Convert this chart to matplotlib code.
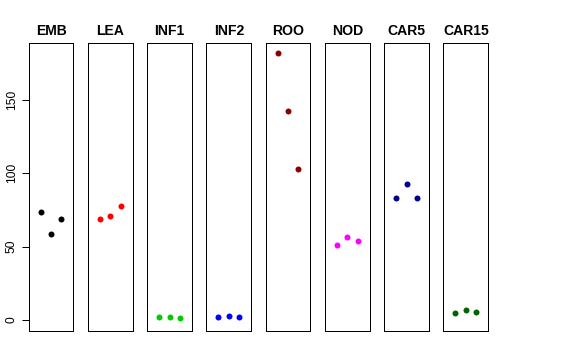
import matplotlib
matplotlib.use("Agg")
import matplotlib.pyplot as plt

tissues = ["EMB", "LEA", "INF1", "INF2", "ROO", "NOD", "CAR5", "CAR15"]
colors = ["black", "red", "#00CD00", "blue", "#8B0000", "magenta", "#00008B", "#006400"]
values = {
    "EMB": [73.6, 58.4, 68.9],
    "LEA": [68.6, 70.7, 77.9],
    "INF1": [2.0, 2.0, 1.4],
    "INF2": [1.8, 2.5, 2.3],
    "ROO": [181.6, 142.5, 102.7],
    "NOD": [50.9, 56.4, 53.9],
    "CAR5": [83.2, 92.5, 83.2],
    "CAR15": [4.8, 6.8, 5.5],
}
yticks = [0, 50, 100, 150]

plt.rcParams['font.family'] = ['Liberation Sans', 'DejaVu Sans']
W, H = 576, 360
fig = plt.figure(figsize=(W / 72, H / 72), dpi=72)

ymax = max(max(v) for v in values.values())
ymin = 0
pad = 0.04 * (ymax - ymin)
x0, step, pw = 28.7, 59.25, 44.7
top, bottom = 42.7, 330.7
for i, (t, c) in enumerate(zip(tissues, colors)):
    left = x0 + step * i
    ax = fig.add_axes([left / W, 1 - bottom / H, pw / W, (bottom - top) / H])
    ax.plot([1, 2, 3], values[t], 'o', color=c, markersize=6, markeredgewidth=0)
    ax.set_xlim(0 - 0.16, 4 + 0.16)
    ax.set_ylim(ymin - pad, ymax + pad)
    ax.set_xticks([])
    for s in ax.spines.values():
        s.set_linewidth(1)
        s.set_color("black")
    ax.set_title(t, fontsize=14, fontweight="bold", pad=8)
    if i == 0:
        ax.set_yticks(yticks)
        ax.set_yticklabels([str(v) for v in yticks], rotation=90, va="center", fontsize=12)
        ax.tick_params(axis="y", length=7, width=1, pad=4)
    else:
        ax.set_yticks([])

fig.savefig("out.png", dpi=72)
